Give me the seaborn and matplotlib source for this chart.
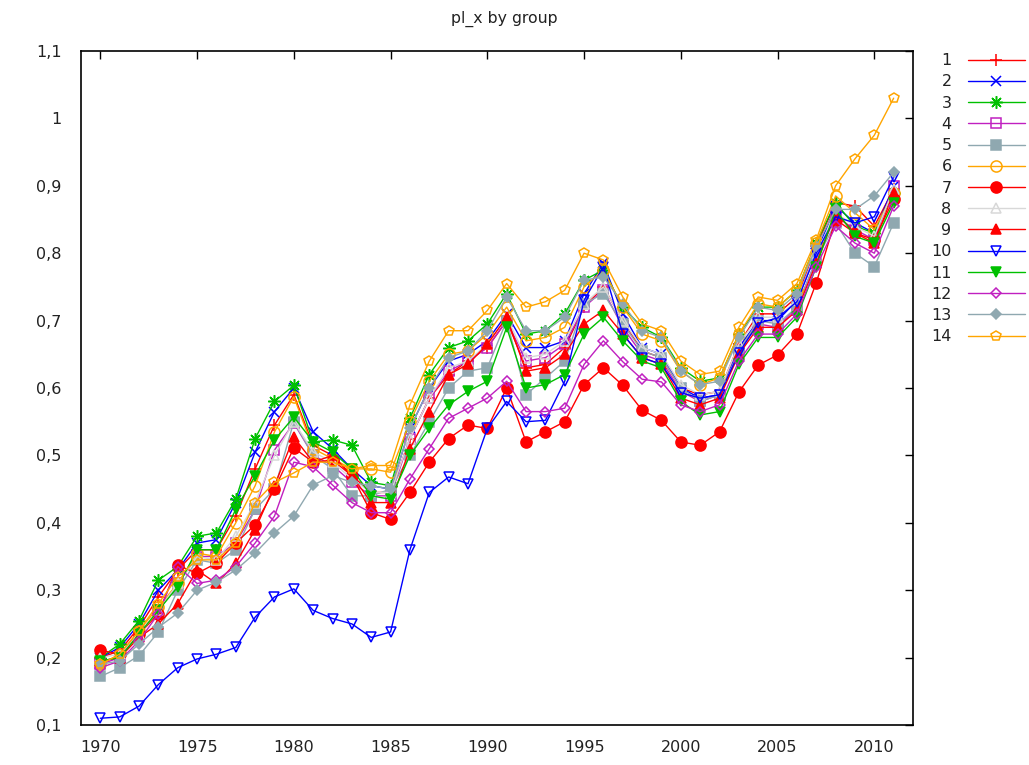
import numpy as np
import pandas as pd
import matplotlib
matplotlib.use("Agg")
import matplotlib.pyplot as plt
import seaborn as sns

years = list(range(1970, 2012))

s1 = [0.200, 0.210, 0.245, 0.290, 0.330, 0.360, 0.360, 0.410, 0.480, 0.545, 0.590, 0.515, 0.500, 0.470,
      0.445, 0.445, 0.525, 0.585, 0.620, 0.640, 0.660, 0.700, 0.630, 0.635, 0.660, 0.720, 0.750, 0.700,
      0.655, 0.645, 0.600, 0.590, 0.595, 0.665, 0.710, 0.710, 0.735, 0.810, 0.875, 0.870, 0.840, 0.895]
s2 = [0.200, 0.215, 0.250, 0.300, 0.330, 0.370, 0.375, 0.430, 0.505, 0.565, 0.600, 0.535, 0.510, 0.480,
      0.455, 0.450, 0.540, 0.600, 0.640, 0.650, 0.670, 0.710, 0.660, 0.660, 0.670, 0.740, 0.785, 0.710,
      0.660, 0.650, 0.600, 0.585, 0.590, 0.660, 0.700, 0.700, 0.730, 0.800, 0.870, 0.845, 0.830, 0.900]
s3 = [0.200, 0.220, 0.255, 0.315, 0.335, 0.380, 0.385, 0.435, 0.525, 0.580, 0.604, 0.520, 0.523, 0.515,
      0.460, 0.455, 0.555, 0.620, 0.660, 0.670, 0.695, 0.740, 0.680, 0.685, 0.710, 0.760, 0.775, 0.720,
      0.690, 0.675, 0.630, 0.610, 0.615, 0.680, 0.720, 0.720, 0.745, 0.815, 0.875, 0.840, 0.830, 0.890]
s4 = [0.190, 0.200, 0.235, 0.270, 0.310, 0.350, 0.350, 0.370, 0.420, 0.508, 0.548, 0.500, 0.485, 0.460,
      0.440, 0.440, 0.525, 0.585, 0.625, 0.640, 0.660, 0.700, 0.640, 0.645, 0.665, 0.720, 0.745, 0.690,
      0.650, 0.640, 0.595, 0.580, 0.590, 0.655, 0.695, 0.690, 0.720, 0.790, 0.855, 0.835, 0.820, 0.900]
s5 = [0.172, 0.185, 0.203, 0.238, 0.300, 0.345, 0.340, 0.360, 0.420, 0.450, 0.550, 0.500, 0.480, 0.440,
      0.440, 0.450, 0.500, 0.550, 0.600, 0.625, 0.630, 0.700, 0.590, 0.615, 0.640, 0.725, 0.740, 0.695,
      0.655, 0.645, 0.600, 0.580, 0.590, 0.655, 0.700, 0.695, 0.720, 0.790, 0.845, 0.800, 0.780, 0.845]
s6 = [0.190, 0.205, 0.240, 0.275, 0.310, 0.355, 0.350, 0.400, 0.455, 0.535, 0.587, 0.510, 0.495, 0.480,
      0.480, 0.475, 0.550, 0.610, 0.650, 0.655, 0.680, 0.720, 0.670, 0.675, 0.690, 0.750, 0.775, 0.720,
      0.680, 0.670, 0.625, 0.605, 0.615, 0.680, 0.725, 0.720, 0.745, 0.815, 0.885, 0.860, 0.835, 0.890]
s7 = [0.211, 0.205, 0.235, 0.265, 0.337, 0.325, 0.340, 0.370, 0.397, 0.450, 0.511, 0.490, 0.493, 0.470,
      0.415, 0.405, 0.445, 0.490, 0.525, 0.545, 0.540, 0.600, 0.520, 0.535, 0.550, 0.605, 0.630, 0.604,
      0.567, 0.552, 0.520, 0.515, 0.535, 0.594, 0.634, 0.649, 0.680, 0.756, 0.850, 0.830, 0.820, 0.880]
s8 = [0.200, 0.205, 0.235, 0.270, 0.310, 0.350, 0.345, 0.380, 0.430, 0.500, 0.550, 0.505, 0.490, 0.465,
      0.445, 0.445, 0.525, 0.585, 0.630, 0.640, 0.665, 0.705, 0.645, 0.650, 0.670, 0.725, 0.750, 0.700,
      0.660, 0.650, 0.605, 0.590, 0.595, 0.665, 0.705, 0.705, 0.730, 0.800, 0.860, 0.840, 0.825, 0.895]
s9 = [0.195, 0.200, 0.230, 0.250, 0.280, 0.330, 0.310, 0.340, 0.390, 0.455, 0.527, 0.490, 0.500, 0.470,
      0.430, 0.430, 0.510, 0.565, 0.620, 0.635, 0.665, 0.705, 0.625, 0.630, 0.650, 0.695, 0.715, 0.680,
      0.645, 0.635, 0.585, 0.575, 0.585, 0.650, 0.690, 0.690, 0.715, 0.785, 0.860, 0.830, 0.815, 0.890]
s10 = [0.110, 0.112, 0.128, 0.160, 0.185, 0.198, 0.205, 0.215, 0.260, 0.290, 0.302, 0.270, 0.258, 0.250,
       0.230, 0.238, 0.360, 0.445, 0.468, 0.458, 0.540, 0.580, 0.550, 0.552, 0.610, 0.730, 0.780, 0.680,
       0.645, 0.635, 0.593, 0.585, 0.590, 0.652, 0.696, 0.704, 0.728, 0.800, 0.854, 0.845, 0.854, 0.913]
s11 = [0.195, 0.200, 0.235, 0.270, 0.305, 0.360, 0.360, 0.420, 0.470, 0.523, 0.557, 0.520, 0.505, 0.480,
       0.440, 0.435, 0.500, 0.540, 0.575, 0.595, 0.610, 0.690, 0.600, 0.605, 0.620, 0.680, 0.705, 0.670,
       0.640, 0.630, 0.580, 0.560, 0.565, 0.635, 0.675, 0.675, 0.705, 0.780, 0.865, 0.825, 0.815, 0.875]
s12 = [0.185, 0.195, 0.225, 0.265, 0.335, 0.310, 0.315, 0.335, 0.370, 0.410, 0.490, 0.483, 0.456, 0.430,
       0.415, 0.415, 0.465, 0.510, 0.555, 0.570, 0.585, 0.610, 0.565, 0.565, 0.570, 0.635, 0.670, 0.639,
       0.613, 0.609, 0.575, 0.565, 0.575, 0.640, 0.680, 0.680, 0.710, 0.780, 0.840, 0.815, 0.800, 0.870]
s13 = [0.190, 0.195, 0.220, 0.245, 0.266, 0.300, 0.312, 0.330, 0.355, 0.385, 0.410, 0.456, 0.470, 0.460,
       0.455, 0.450, 0.540, 0.600, 0.645, 0.655, 0.685, 0.735, 0.685, 0.685, 0.705, 0.760, 0.765, 0.725,
       0.685, 0.675, 0.625, 0.605, 0.610, 0.675, 0.720, 0.715, 0.740, 0.810, 0.865, 0.865, 0.885, 0.920]
s14 = [0.190, 0.205, 0.240, 0.280, 0.320, 0.345, 0.345, 0.370, 0.430, 0.460, 0.474, 0.490, 0.490, 0.480,
       0.485, 0.485, 0.575, 0.640, 0.685, 0.685, 0.715, 0.755, 0.720, 0.728, 0.745, 0.800, 0.790, 0.735,
       0.695, 0.685, 0.640, 0.620, 0.625, 0.690, 0.735, 0.730, 0.755, 0.820, 0.900, 0.940, 0.975, 1.030]

series = [s1, s2, s3, s4, s5, s6, s7, s8, s9, s10, s11, s12, s13, s14]
groups = [str(i) for i in range(1, 15)]

x_ticks = [1970, 1975, 1980, 1985, 1990, 1995, 2000, 2005, 2010]
y_ticks = [0.1, 0.2, 0.3, 0.4, 0.5, 0.6, 0.7, 0.8, 0.9, 1.0, 1.1]
y_tick_labels = ["0,1", "0,2", "0,3", "0,4", "0,5", "0,6", "0,7", "0,8", "0,9", "1", "1,1"]

df = pd.DataFrame({
    "year": np.tile(years, len(groups)),
    "value": np.concatenate([np.array(s) for s in series]),
    "group": np.repeat(groups, len(years)),
})

RED = "#ff0000"
BLUE = "#0000ff"
GREEN = "#00c000"
MAG = "#c020c0"
GRAY = "#8fa8b0"
ORANGE = "#ffa500"
LGRAY = "#d8d8d8"

styles = {
    "1": (RED, "+", True),
    "2": (BLUE, "x", True),
    "3": (GREEN, (8, 2, 0), True),
    "4": (MAG, "s", False),
    "5": (GRAY, "s", True),
    "6": (ORANGE, "o", False),
    "7": (RED, "o", True),
    "8": (LGRAY, "^", False),
    "9": (RED, "^", True),
    "10": (BLUE, "v", False),
    "11": (GREEN, "v", True),
    "12": (MAG, "D", False),
    "13": (GRAY, "D", True),
    "14": (ORANGE, "p", False),
}
sizes = {"+": 9, "x": 7, (8, 2, 0): 9, "s": 7, "o": 8, "^": 7, "v": 7, "D": 5.5, "p": 7.5}

sns.set_theme(style="white")
plt.rcParams["font.family"] = ["DejaVu Sans"]

fig = plt.figure(figsize=(10.29, 7.65), dpi=100)
ax = fig.add_axes([81 / 1029, 1 - 725 / 765, (913 - 81) / 1029, (725 - 51) / 765])

for g in groups:
    c, m, filled = styles[g]
    sub = df[df["group"] == g]
    sns.lineplot(data=sub, x="year", y="value", ax=ax, color=c, linewidth=1.0,
                 marker=m, markersize=sizes[m], markeredgecolor=c,
                 markerfacecolor=(c if filled else "none"), markeredgewidth=1.1,
                 label=g, legend=False)

ax.set_xlim(1969, 2012)
ax.set_ylim(0.1, 1.1)
ax.set_xticks(x_ticks)
ax.set_yticks(y_ticks)
ax.set_yticklabels(y_tick_labels)
ax.set_xlabel("")
ax.set_ylabel("")
ax.tick_params(direction="in", top=True, right=True, length=6, width=1,
               labelsize=11.5, labelcolor="#222222", color="black")
ax.tick_params(axis="y", pad=14)
ax.tick_params(axis="x", pad=11)
for sp in ax.spines.values():
    sp.set_color("black")
    sp.set_linewidth(1.2)

fig.text(0.49, 1 - 19 / 765, "pl_x by group", ha="center", va="center", fontsize=11.3, color="#222222")

handles, labels = ax.get_legend_handles_labels()
fig.legend(handles, labels, loc="upper right", bbox_to_anchor=(1.007, 0.945),
           frameon=False, markerfirst=False, fontsize=11.5, handlelength=3.6,
           labelspacing=0.39, borderpad=0.2, handletextpad=1.0, labelcolor="#222222")

fig.savefig("out.png", dpi=100, facecolor="white")
